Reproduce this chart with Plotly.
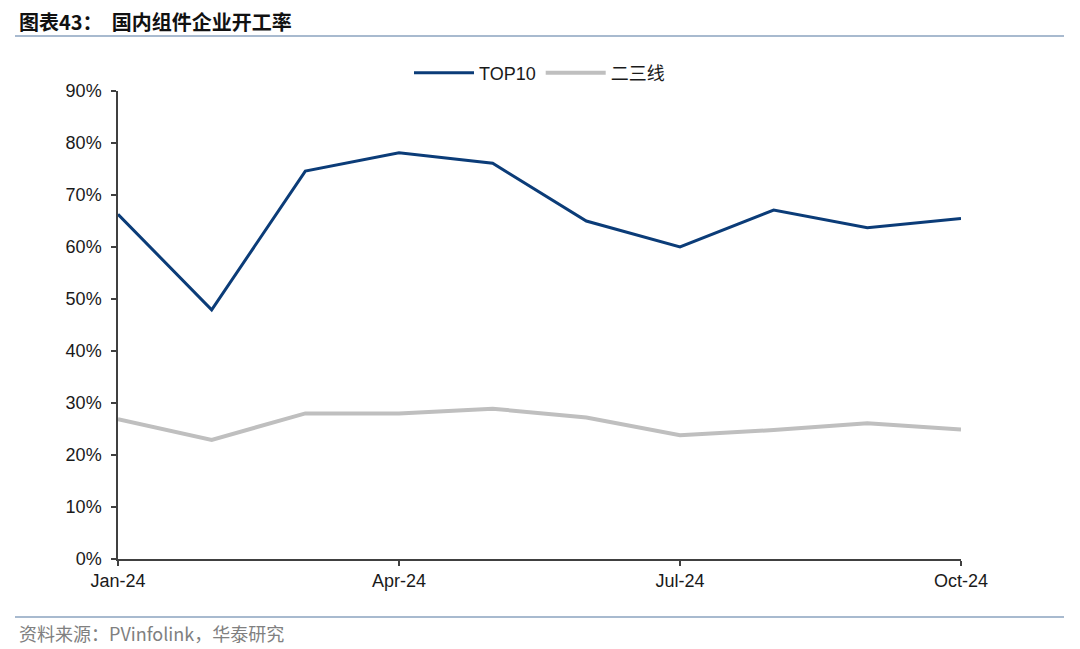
import plotly.graph_objects as go

months = ["Jan-24", "Feb-24", "Mar-24", "Apr-24", "May-24", "Jun-24",
          "Jul-24", "Aug-24", "Sep-24", "Oct-24"]
top10 = [66.3, 47.9, 74.6, 78.1, 76.1, 65.0, 60.0, 67.1, 63.7, 65.5]
tier23 = [26.9, 22.9, 28.0, 28.0, 28.9, 27.2, 23.8, 24.8, 26.1, 24.9]
tick_labels = ["Jan-24", "Apr-24", "Jul-24", "Oct-24"]
y_ticks = [0, 10, 20, 30, 40, 50, 60, 70, 80, 90]
y_tick_text = [f"{v}%" for v in y_ticks]

fig = go.Figure()
fig.add_trace(go.Scatter(x=months, y=top10, mode="lines", name="TOP10",
                         line=dict(color="#0B3C78", width=3)))
fig.add_trace(go.Scatter(x=months, y=tier23, mode="lines", name="二三线",
                         line=dict(color="#BFBFBF", width=4)))

axis_font = dict(family="Liberation Sans, Arial, sans-serif", size=18, color="#1a1a1a")

# plot area in figure coords (page has an 8px body offset)
L, T, W, H = 110, 83, 843, 468

def px(xf):
    return (xf - L) / W

def py(yf):
    return 1 - (yf - T) / H

fig.update_layout(
    width=1080, height=649,
    paper_bgcolor="white", plot_bgcolor="white",
    margin=dict(l=L, r=1080 - L - W, t=T, b=649 - T - H),
    showlegend=True,
    legend=dict(orientation="h", x=0.5, xanchor="center", y=py(65), yanchor="middle",
                font=dict(family="Liberation Sans, Noto Sans CJK SC, sans-serif", size=18, color="#1a1a1a"),
                itemwidth=60, bgcolor="rgba(0,0,0,0)"),
    font=axis_font,
)
fig.update_xaxes(type="category", categoryorder="array", categoryarray=months,
                 range=[0, len(months) - 1],
                 tickvals=tick_labels, ticktext=tick_labels,
                 showline=True, linecolor="#404040", linewidth=1.5,
                 ticks="outside", ticklen=5, tickcolor="#404040", tickwidth=1.5,
                 showgrid=False, zeroline=False, tickfont=axis_font)
fig.update_yaxes(range=[0, 90], tickvals=y_ticks, ticktext=y_tick_text,
                 showline=True, linecolor="#404040", linewidth=1.5,
                 ticks="outside", ticklen=5, tickcolor="#404040", tickwidth=1.5,
                 ticklabelstandoff=6,
                 showgrid=False, zeroline=False, tickfont=axis_font)

# Title and source
fig.add_annotation(xref="paper", yref="paper", x=px(9), y=py(13), xanchor="left", yanchor="middle",
                   text="<b>图表43：  国内组件企业开工率</b>", showarrow=False,
                   font=dict(family="Noto Sans CJK SC, sans-serif", size=20, color="#111111"))
fig.add_annotation(xref="paper", yref="paper", x=px(9), y=py(625), xanchor="left", yanchor="middle",
                   text="资料来源：PVinfolink，华泰研究", showarrow=False,
                   font=dict(family="Noto Sans CJK SC, Liberation Sans, sans-serif", size=18, color="#808080"))
for yl in (28, 609):
    fig.add_shape(type="line", xref="paper", yref="paper", x0=px(7), x1=px(1056),
                  y0=py(yl), y1=py(yl), line=dict(color="#8BA3BF", width=1.5))

fig.write_html("out.html")
